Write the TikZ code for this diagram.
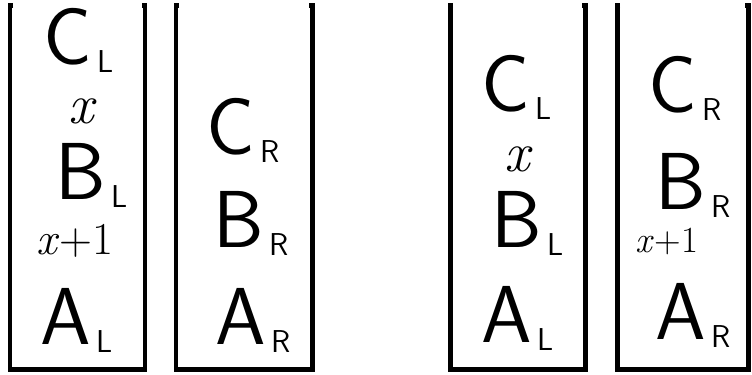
\documentclass[tikz,border=0pt]{standalone}
\usepackage{tikz}
\usetikzlibrary{positioning}
\tikzset{stack/.style={line width=0.1cm,line join=miter}}
\tikzset{item/.style={inner sep=0pt,anchor=base west,font=\sffamily\fontsize{46}{48}\selectfont}}
\tikzset{idx/.style={inner sep=0pt,font=\itshape\fontsize{32}{34}\selectfont}}
\tikzset{idxp/.style={inner sep=0pt,font=\fontsize{26}{28}\selectfont}}
\newcommand\lo[1]{\hspace{3pt}\raisebox{-4pt}{\fontsize{18}{18}\selectfont#1}}

\begin{document}
\begin{tikzpicture}[x=0.02cm,y=-0.02cm]
  \useasboundingbox (0,0) rectangle (752,375);
  % the four stacks, open at the top
  \foreach \l/\r in {10/145,176/312,450/585,617/748}
    \draw[stack] (\l+3,6) -- (\l,6) -- (\l,370) -- (\r,370) -- (\r,6) -- (\r-3,6);
  % before
  \node(cl)[item] at (43,65){C\lo{L}};
  \node(x)[idx] at (81,111){x};
  \node(bl)[item] at (55,200){B\lo{L}};
  \node(xp)[idxp] at (75,241){\textit{x}+1};
  \node(al)[item] at (40,345){A\lo{L}};
  \node(cr)[item] at (206,155){C\lo{R}};
  \node(br)[item] at (213,248){B\lo{R}};
  \node(ar)[item] at (215,345){A\lo{R}};
  % after
  \node(cl2)[item] at (481,112){C\lo{L}};
  \node(x2)[idx] at (517,159){x};
  \node(bl2)[item] at (491,248){B\lo{L}};
  \node(al2)[item] at (481,343){A\lo{L}};
  \node(cr2)[item] at (648,113){C\lo{R}};
  \node(br2)[item] at (655,210){B\lo{R}};
  \node(xp2)[idxp,font=\fontsize{21}{23}\selectfont] at (667,241){\textit{x}+1};
  \node(ar2)[item] at (655,340){A\lo{R}};
\end{tikzpicture}
\end{document}
